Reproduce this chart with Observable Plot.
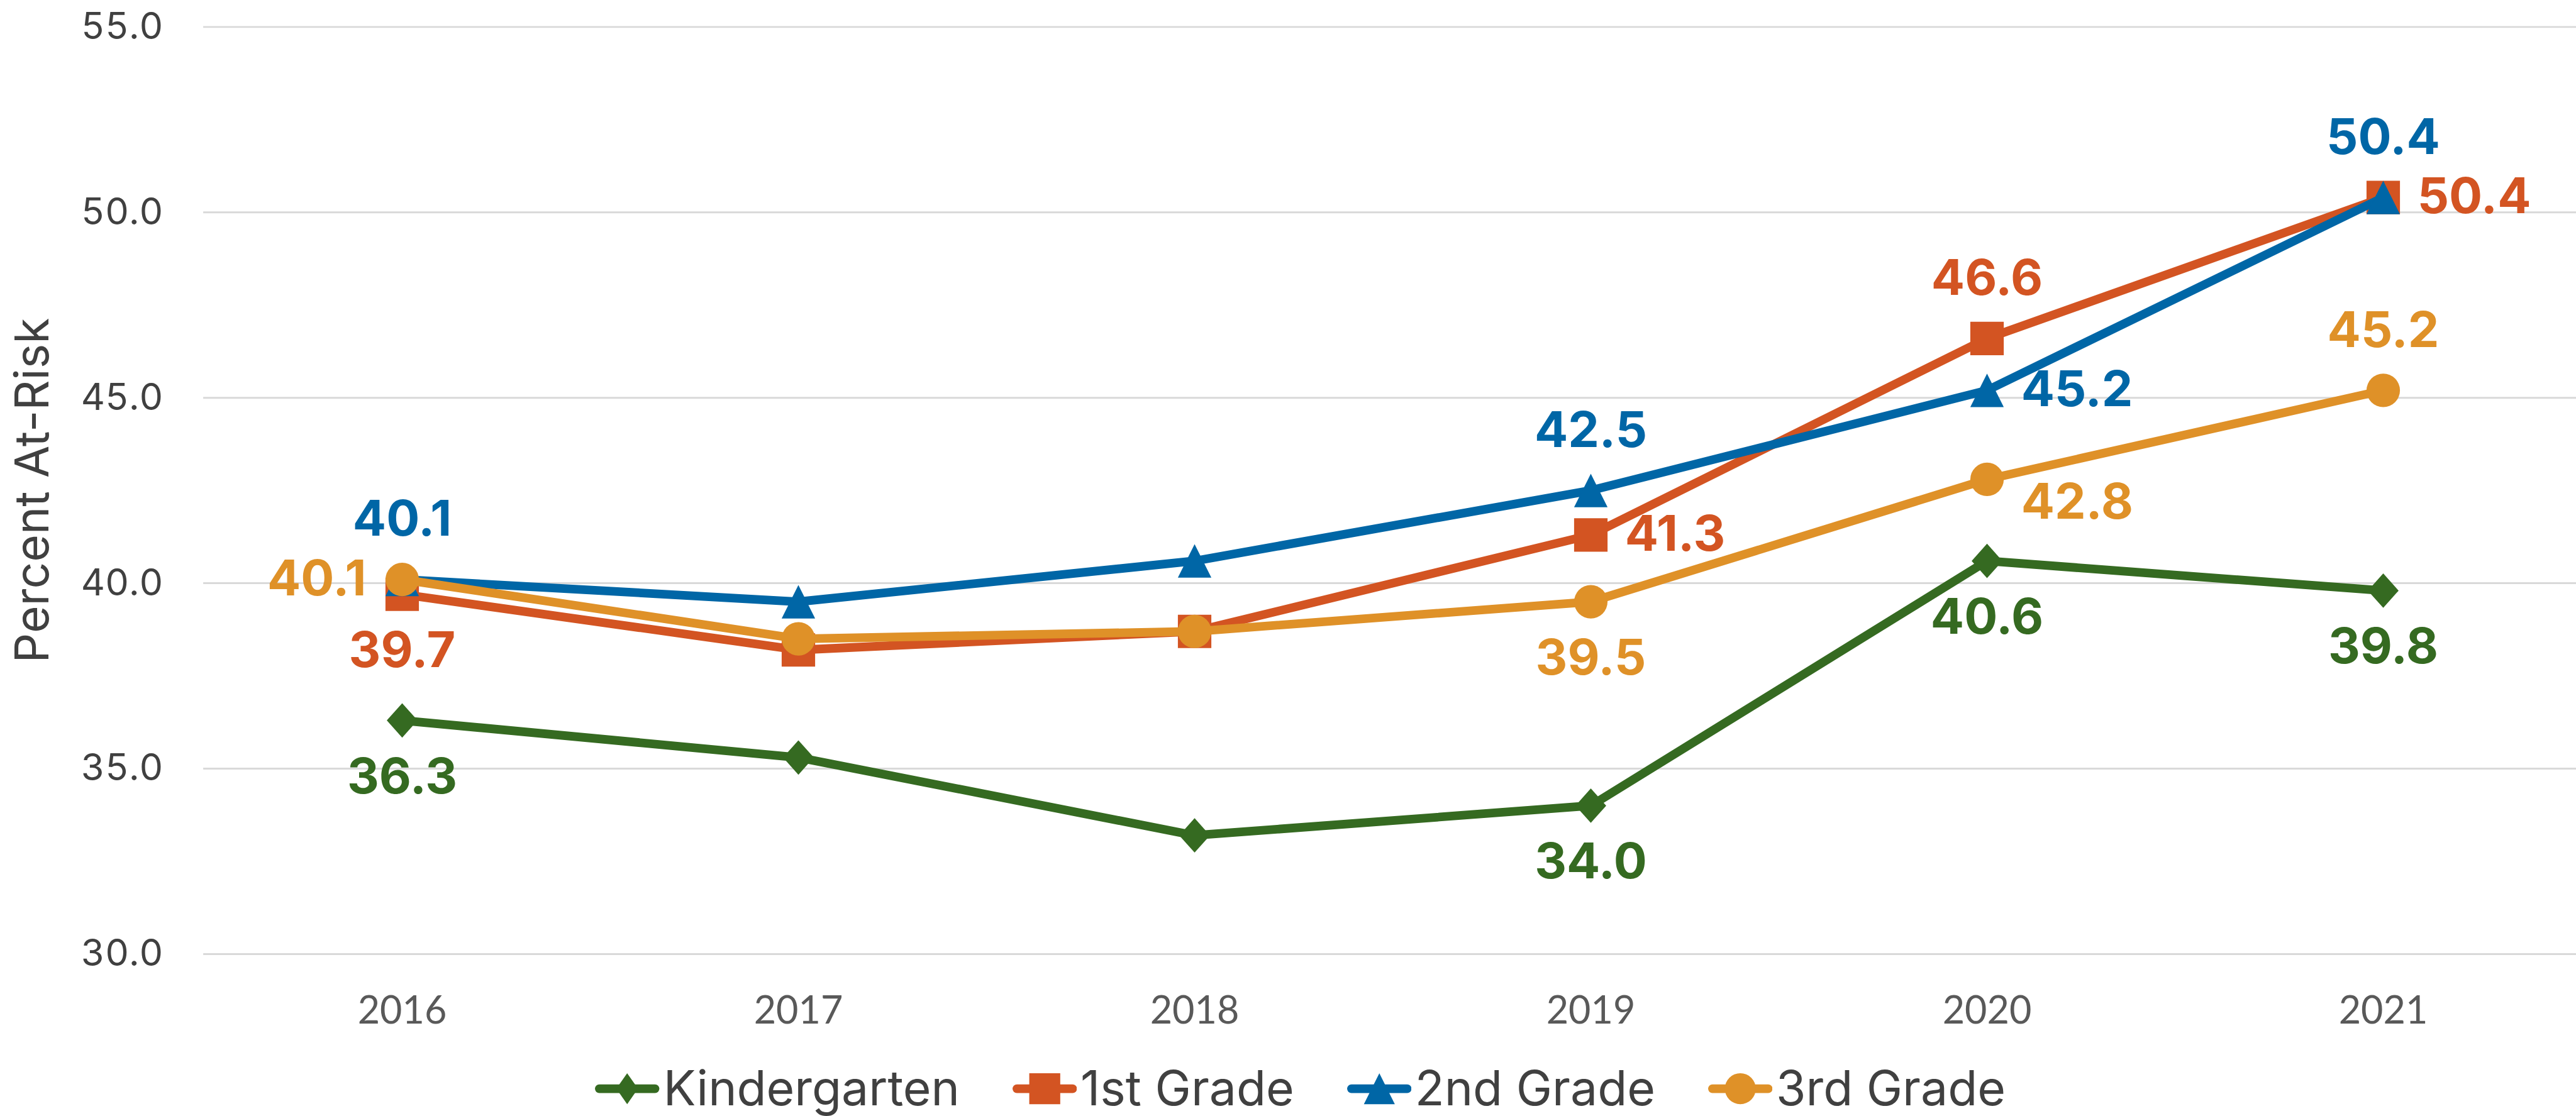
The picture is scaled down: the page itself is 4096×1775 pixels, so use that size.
<!DOCTYPE html>
<html>
<head>
<meta charset="utf-8">
<script src="https://cdn.jsdelivr.net/npm/d3@7"></script>
<script src="https://cdn.jsdelivr.net/npm/@observablehq/plot@0.6"></script>
<style>
  html, body { margin: 0; padding: 0; background: #ffffff; }
  #chart { width: 4096px; background: #ffffff; }
  #chart > svg { display: block; }
</style>
</head>
<body>
<div id="chart"></div>
<script>
// ---------- data ----------
const years = ["2016", "2017", "2018", "2019", "2020", "2021"];
const seriesNames = ["Kindergarten", "1st Grade", "2nd Grade", "3rd Grade"];
const kindergarten = [36.3, 35.3, 33.2, 34.0, 40.6, 39.8];
const grade1 = [39.7, 38.2, 38.7, 41.3, 46.6, 50.4];
const grade2 = [40.1, 39.5, 40.6, 42.5, 45.2, 50.4];
const grade3 = [40.1, 38.5, 38.7, 39.5, 42.8, 45.2];
const yTicks = [30, 35, 40, 45, 50, 55];
const labeledYears = ["2016", "2019", "2020", "2021"];
const yTitle = "Percent At-Risk";

// ---------- style ----------
const seriesColors = ["#356A21", "#D35422", "#0066A6", "#DF9128"];
const k = 0.985;                       // global scale
const W = 4096;
const H = Math.round(1700 * k);        // svg height
const PAGE_H = 1775;

// label placement per series/year (style only)
const labelPlacement = {
  "Kindergarten": {"2016": "below", "2019": "below", "2020": "below", "2021": "below"},
  "1st Grade":    {"2016": "below", "2019": "right", "2020": "above", "2021": "right"},
  "2nd Grade":    {"2016": "above", "2019": "above", "2020": "right", "2021": "above"},
  "3rd Grade":    {"2016": "left",  "2019": "below", "2020": "rightLow", "2021": "above"}
};
const placements = {
  above:    {dx: 0,       dy: -96 * k, textAnchor: "middle"},
  below:    {dx: 0,       dy: 92 * k,  textAnchor: "middle"},
  right:    {dx: 55 * k,  dy: 0,       textAnchor: "start"},
  left:     {dx: -58 * k, dy: 0,       textAnchor: "end"},
  rightLow: {dx: 55 * k,  dy: 38 * k,  textAnchor: "start"}
};

// Excel-like marker shapes (half extent = r)
const symbols = {
  diamond: {draw(ctx, size) { const h = Math.sqrt(size / Math.PI); ctx.moveTo(0, -h * 1.03); ctx.lineTo(h * 0.92, 0); ctx.lineTo(0, h * 1.03); ctx.lineTo(-h * 0.92, 0); ctx.closePath(); }},
  square:  {draw(ctx, size) { const h = Math.sqrt(size / Math.PI); ctx.rect(-h, -h, 2 * h, 2 * h); }},
  triangle:{draw(ctx, size) { const h = Math.sqrt(size / Math.PI); ctx.moveTo(0, -h); ctx.lineTo(h, h); ctx.lineTo(-h, h); ctx.closePath(); }},
  circle:  {draw(ctx, size) { const h = Math.sqrt(size / Math.PI); ctx.moveTo(h, 0); ctx.arc(0, 0, h, 0, 2 * Math.PI); }}
};
const seriesSymbols = [symbols.diamond, symbols.square, symbols.triangle, symbols.circle];
const legendSymbols = [
  {draw(ctx, size) { const h = Math.sqrt(size / Math.PI); ctx.moveTo(0, -h); ctx.lineTo(h * 0.7, 0); ctx.lineTo(0, h); ctx.lineTo(-h * 0.7, 0); ctx.closePath(); }},
  symbols.square, symbols.triangle, symbols.circle
];

// ---------- table ----------
const seriesValues = [kindergarten, grade1, grade2, grade3];
const rows = [];
seriesNames.forEach((s, si) => years.forEach((yr, i) => rows.push({series: s, year: yr, value: seriesValues[si][i]})));

// ---------- marks ----------
const marks = [
  Plot.gridY(yTicks, {stroke: "#d9d9d9", strokeOpacity: 1, strokeWidth: 3 * k}),
  Plot.axisY(yTicks, {
    tickSize: 0, tickPadding: 65 * k, tickFormat: d3.format(".1f"),
    fontSize: 60 * k, fontFamily: "Inter", fill: "#404040", label: null
  }),
  Plot.axisX({
    tickSize: 0, tickPadding: 68 * k, fontSize: 62 * k, fontFamily: "Lato",
    fill: "#595959", label: null
  }),
  Plot.text([yTitle], {
    frameAnchor: "left", rotate: -90, dx: -275 * k, textAnchor: "middle",
    fontSize: 76 * k, fontFamily: "Inter", fill: "#404040"
  })
];

seriesNames.forEach((s, si) => {
  const d = rows.filter(r => r.series === s);
  marks.push(Plot.line(d, {
    x: "year", y: "value", stroke: "series", strokeWidth: 14 * k,
    strokeLinejoin: "round", strokeLinecap: "round"
  }));
  marks.push(Plot.dot(d, {
    x: "year", y: "value", fill: "series", r: 27 * k, symbol: seriesSymbols[si]
  }));
});

seriesNames.forEach((s) => {
  Object.keys(placements).forEach((p) => {
    const d = rows.filter(r => r.series === s && labeledYears.includes(r.year) && labelPlacement[s][r.year] === p);
    if (!d.length) return;
    marks.push(Plot.text(d, {
      x: "year", y: "value", text: r => r.value.toFixed(1), fill: "series",
      fontWeight: 700, fontSize: 80 * k, fontFamily: "Inter",
      dx: placements[p].dx, dy: placements[p].dy, textAnchor: placements[p].textAnchor
    }));
  });
});

const plot = Plot.plot({
  width: W,
  height: H,
  marginLeft: 328 * k,
  marginRight: 0,
  marginTop: 43 * k,
  marginBottom: H - 1540 * k,
  style: {background: "#ffffff", fontFamily: "Inter", color: "#404040", overflow: "visible"},
  x: {type: "point", domain: years, range: [647 * k, 3848 * k], padding: 0, label: null},
  y: {domain: [30, 55], label: null},
  color: {domain: seriesNames, range: seriesColors},
  marks
});

const chart = document.getElementById("chart");
chart.appendChild(plot);

// ---------- legend (below the svg) ----------
const legendH = PAGE_H - H;
const legendCenter = 1758 * k - H;          // desired vertical centre inside legend box
const padTop = Math.max(0, 2 * legendCenter - legendH);
const legend = document.createElement("div");
legend.style.cssText = `width:${W}px;height:${legendH}px;padding-top:${padTop}px;box-sizing:border-box;` +
  `display:flex;justify-content:center;align-items:center;gap:${85 * k}px;padding-left:${40 * k}px;` +
  `font-family:Inter;font-size:${78 * k}px;color:#404040;line-height:1.15;white-space:nowrap;`;
seriesNames.forEach((s, si) => {
  const item = document.createElement("div");
  item.style.cssText = `display:flex;align-items:center;gap:${6 * k}px;`;
  const sw = 104 * k, sh = 60 * k;
  const svgNS = "http://www.w3.org/2000/svg";
  const svg = document.createElementNS(svgNS, "svg");
  svg.setAttribute("width", sw); svg.setAttribute("height", sh);
  const line = document.createElementNS(svgNS, "line");
  line.setAttribute("x1", 7 * k); line.setAttribute("x2", sw - 7 * k);
  line.setAttribute("y1", sh / 2); line.setAttribute("y2", sh / 2);
  line.setAttribute("stroke", seriesColors[si]); line.setAttribute("stroke-width", 14 * k);
  line.setAttribute("stroke-linecap", "round");
  svg.appendChild(line);
  const path = document.createElementNS(svgNS, "path");
  const lr = 25 * k;
  path.setAttribute("d", d3.symbol(legendSymbols[si], Math.PI * lr * lr)());
  path.setAttribute("transform", `translate(${sw / 2},${sh / 2})`);
  path.setAttribute("fill", seriesColors[si]);
  svg.appendChild(path);
  const label = document.createElement("span");
  label.textContent = s;
  item.appendChild(svg); item.appendChild(label);
  legend.appendChild(item);
});
chart.appendChild(legend);
</script>
</body>
</html>
